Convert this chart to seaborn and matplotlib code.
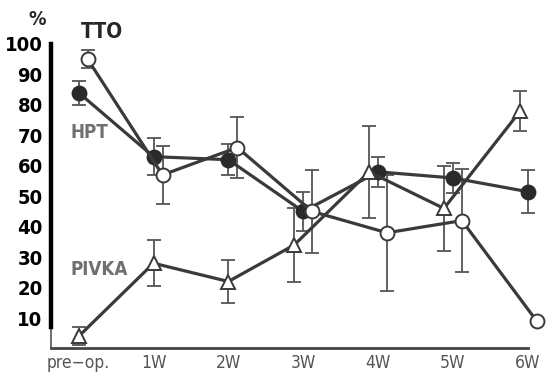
import numpy as np
import pandas as pd
import matplotlib
matplotlib.use("Agg")
import matplotlib.pyplot as plt
import seaborn as sns

categories = ["pre\u2212op.", "1W", "2W", "3W", "4W", "5W", "6W"]

hpt = [84, 63, 62, 45, 58, 56, 51.5]
hpt_err = [4, 6, 5, 6.5, 5, 5, 7]

tto = [95, 57, 66, 45, 38, 42, 9]
tto_err = [3, 9.5, 10, 13.5, 19, 17, 0]

pivka = [4, 28, 22, 34, 58, 46, 78]
pivka_err = [3, 7.5, 7, 12, 15, 14, 6.5]

y_ticks = [10, 20, 30, 40, 50, 60, 70, 80, 90, 100]

sns.set_style("white")
plt.rcParams["font.family"] = ["DejaVu Sans"]
plt.rcParams["font.stretch"] = "condensed"

LINE = "#3a3a3a"
ERR = "#555555"

# horizontal nudges so overlapping series stay readable
nudge = {
    "HPT": [0, 0, 0, 0, 0, 0, 0],
    "TTO": [0.12] * 7,
    "PIVKA": [0, 0, 0, -0.12, -0.12, -0.12, -0.1],
}

series = [
    ("HPT", hpt, hpt_err, dict(marker="o", markerfacecolor="#2a2a2a", markeredgecolor="#2a2a2a")),
    ("TTO", tto, tto_err, dict(marker="o", markerfacecolor="white", markeredgecolor=LINE)),
    ("PIVKA", pivka, pivka_err, dict(marker="^", markerfacecolor="white", markeredgecolor=LINE)),
]

fig = plt.figure(figsize=(5.5, 3.77), dpi=100)
ax = fig.add_axes([0.0927, 0.0756, 0.9036, 0.832])

for name, vals, errs, mstyle in series:
    pos = np.arange(len(categories)) + np.array(nudge[name])
    df = pd.DataFrame({"pos": pos, "value": vals})
    ax.errorbar(pos, vals, yerr=errs, fmt="none", ecolor=ERR, elinewidth=1.3,
                capsize=5, capthick=1.3, zorder=2, clip_on=False)
    sns.lineplot(data=df, x="pos", y="value", ax=ax, color=LINE, linewidth=2.3,
                 markersize=10, markeredgewidth=1.4, zorder=3, clip_on=False,
                 legend=False, **mstyle)

ax.set_xlim(-0.37, 6.27)
ax.set_ylim(0, 103)

ax.spines["top"].set_visible(False)
ax.spines["right"].set_visible(False)
ax.spines["left"].set_bounds(7, 100)
ax.spines["left"].set_linewidth(3.2)
ax.spines["left"].set_color("black")
ax.spines["bottom"].set_bounds(-0.37, 6)
ax.spines["bottom"].set_linewidth(2)
ax.spines["bottom"].set_color("#444444")
ax.plot([-0.37, -0.37], [0, 7], color="#555555", lw=1.2, clip_on=False, zorder=1)

ax.set_yticks(y_ticks)
ax.set_yticklabels([str(t) for t in y_ticks], fontsize=14.5, fontweight="bold",
                   color="black", fontstretch="condensed")
ax.tick_params(axis="y", direction="in", length=4, width=1, color="#888888", pad=6)

ax.set_xticks(range(len(categories)))
ax.set_xticklabels(categories, fontsize=12.5, color="#555555", fontstretch="condensed")
ax.tick_params(axis="x", direction="in", length=5, width=1.2, color="#666666", pad=4)

ax.set_xlabel("")
ax.set_ylabel("")

ax.text(-0.55, 108, "%", fontsize=14, fontweight="bold", ha="center", va="center",
        clip_on=False, fontstretch="condensed")
ax.text(0.31, 104, "TTO", fontsize=15, fontweight="bold", ha="center", va="center",
        clip_on=False, fontstretch="condensed")
ax.text(0.15, 70.8, "HPT", fontsize=13.5, fontweight="bold", color="#707070",
        ha="center", va="center", fontstretch="condensed")
ax.text(0.28, 25.8, "PIVKA", fontsize=13.5, fontweight="bold", color="#707070",
        ha="center", va="center", fontstretch="condensed")

fig.savefig("out.png", dpi=100)
